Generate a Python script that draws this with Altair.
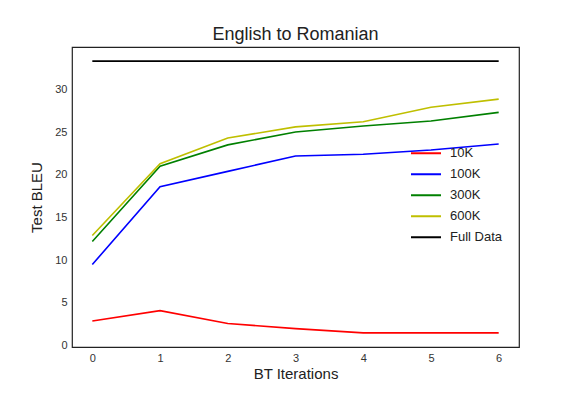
import altair as alt
import pandas as pd

iterations = [0, 1, 2, 3, 4, 5, 6]
series_names = ["10K", "100K", "300K", "600K", "Full Data"]
bleu_10k = [2.9, 4.1, 2.6, 2.0, 1.5, 1.5, 1.5]
bleu_100k = [9.5, 18.6, 20.4, 22.2, 22.4, 22.9, 23.6]
bleu_300k = [12.2, 21.0, 23.5, 25.0, 25.7, 26.3, 27.3]
bleu_600k = [12.9, 21.3, 24.3, 25.6, 26.2, 27.9, 28.85]
bleu_full = [33.3, 33.3, 33.3, 33.3, 33.3, 33.3, 33.3]
colors = ["#ff0000", "#0000ff", "#008000", "#bfbf00", "#000000"]

rows = []
for name, vals in zip(series_names, [bleu_10k, bleu_100k, bleu_300k, bleu_600k, bleu_full]):
    for it, v in zip(iterations, vals):
        rows.append({"iter": it, "bleu": v, "series": name})
df = pd.DataFrame(rows)

font = "Liberation Sans"

chart = alt.Chart(df).mark_line(strokeWidth=1.6, clip=True).encode(
    x=alt.X("iter:Q", title="BT Iterations",
            scale=alt.Scale(domain=[-0.3, 6.3], nice=False, zero=False),
            axis=alt.Axis(values=iterations, format="d")),
    y=alt.Y("bleu:Q", title="Test BLEU",
            scale=alt.Scale(domain=[-0.15, 34.95], nice=False, zero=False),
            axis=alt.Axis(values=[0, 5, 10, 15, 20, 25, 30])),
    color=alt.Color("series:N", sort=series_names,
                    scale=alt.Scale(domain=series_names, range=colors),
                    legend=alt.Legend(title=None, orient="none", legendX=338, legendY=96,
                                      symbolType="stroke", symbolSize=900,
                                      symbolStrokeWidth=2, labelFontSize=13,
                                      labelFont=font, labelColor="#222222",
                                      rowPadding=0, clipHeight=20.5, labelOffset=8)),
    detail="series:N",
).properties(
    width=447, height=300,
    title=alt.TitleParams("English to Romanian", fontSize=18, font=font,
                          fontWeight="normal", color="#222222", offset=3),
    autosize=alt.AutoSizeParams(type="none"),
    padding={"left": 64, "top": 39, "right": 49, "bottom": 41},
).configure_view(
    stroke="#222222", strokeWidth=1.2
).configure_axis(
    grid=False, domain=False, ticks=False,
    labelFont=font, labelFontSize=11, labelColor="#333333",
    titleFont=font, titleFontSize=15, titleFontWeight="normal", titleColor="#222222",
    labelPadding=5,
).configure_axisX(titlePadding=3).configure_axisY(titlePadding=10)

chart.save("out.html", embed_options={"renderer": "svg", "actions": False})
